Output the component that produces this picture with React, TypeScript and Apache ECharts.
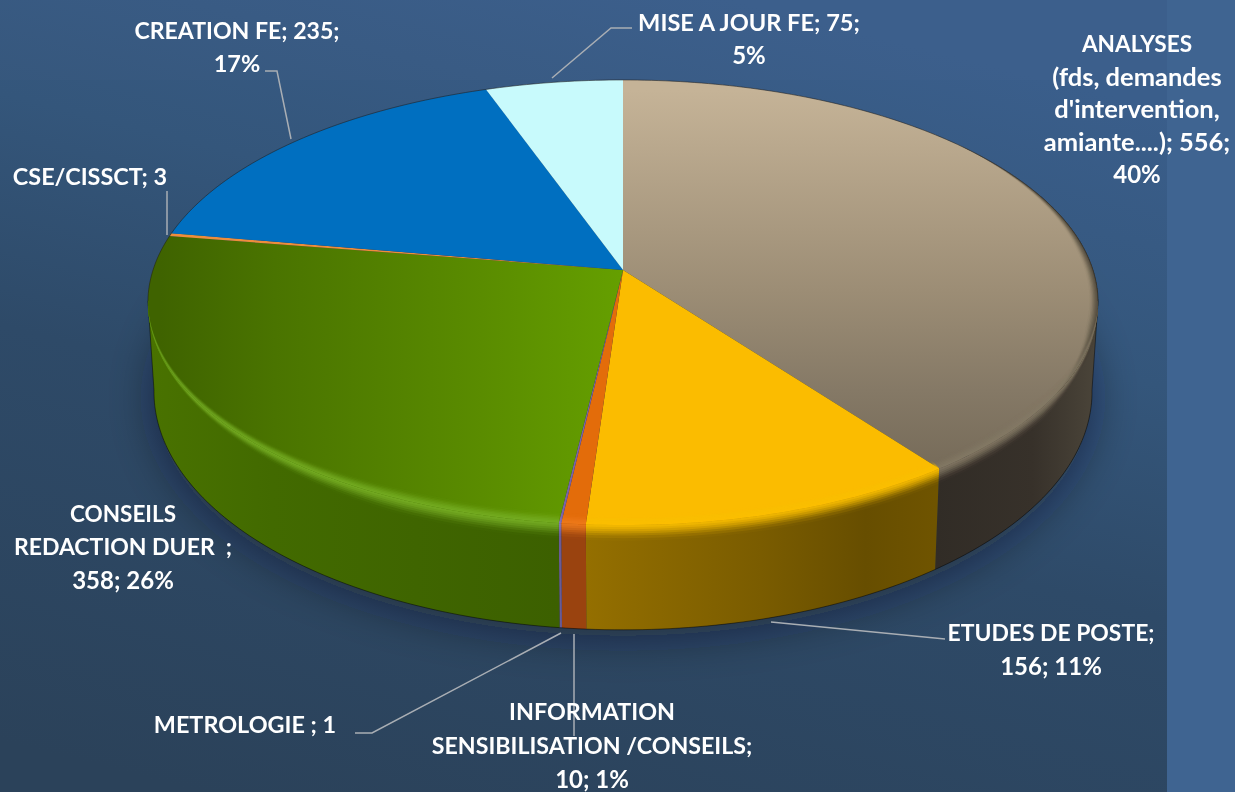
import React, { useEffect, useRef } from "react";
import * as echarts from "echarts";

const categories = [
  "ANALYSES (fds, demandes d'intervention, amiante....)",
  "ETUDES DE POSTE",
  "INFORMATION SENSIBILISATION /CONSEILS",
  "METROLOGIE",
  "CONSEILS REDACTION DUER",
  "CSE/CISSCT",
  "CREATION FE",
  "MISE A JOUR FE",
];
const values = [556, 156, 10, 1, 358, 3, 235, 75];
const labelLines = [
  ["ANALYSES", "(fds, demandes", "d'intervention,", "amiante....); 556;", "40%"],
  ["ETUDES DE POSTE;", "156; 11%"],
  ["INFORMATION", "SENSIBILISATION /CONSEILS;", "10; 1%"],
  ["METROLOGIE ; 1"],
  ["CONSEILS", "REDACTION DUER  ;", "358; 26%"],
  ["CSE/CISSCT; 3"],
  ["CREATION FE; 235;", "17%"],
  ["MISE A JOUR FE; 75;", "5%"],
];

// ---- layout and styles (separate from the data) ----
const W = 1235;
const H = 792;
const labelAnchors = [
  { x: 1137, y: 43, step: 32.5, sizes: [22.6, 25.5, 25.5, 25.5, 24] },
  { x: 1051, y: 632, step: 33, sizes: [22.9, 24] },
  { x: 592, y: 711, step: 33.5, sizes: [23.3, 23.2, 24] },
  { x: 245, y: 724, step: 33, sizes: [23.4] },
  { x: 123, y: 513, step: 33, sizes: [22.5, 23, 24] },
  { x: 90, y: 176, step: 33, sizes: [23.4] },
  { x: 237, y: 30, step: 33, sizes: [23.1, 23.5] },
  { x: 749, y: 22, step: 32, sizes: [23.6, 24] },
];
const leaders: number[][][] = [
  [],
  [[771, 622], [945, 639]],
  [[574, 634], [574, 736]],
  [[561, 633], [372, 733], [355, 733]],
  [],
  [[167, 191], [167, 235]],
  [[265, 71], [277, 71], [291, 139]],
  [[552, 78], [611, 28], [632, 28]],
];
const gl = (x1: number, y1: number, x2: number, y2: number, stops: [number, string][]) =>
  new echarts.graphic.LinearGradient(
    x1, y1, x2, y2,
    stops.map(([offset, color]) => ({ offset, color })),
    true
  );
const faceFill = [
  gl(0, 90, 0, 470, [[0, "#c5b397"], [0.53, "#9c8d75"], [0.79, "#857966"], [1, "#766b59"]]),
  "#fbbc00",
  "#e36c0a",
  "#7a62aa",
  gl(160, 0, 620, 0, [[0, "#3f6300"], [0.25, "#4a7400"], [0.7, "#5a8c00"], [1, "#659f00"]]),
  "#ee8d3c",
  "#006fc0",
  "#c8fafc",
];
const wallFill = [
  gl(935, 0, 1098, 0, [[0, "#312c26"], [0.6, "#37312a"], [1, "#4b453a"]]),
  gl(587, 0, 935, 0, [[0, "#946f00"], [0.5, "#7a5c00"], [0.8, "#674e00"], [1, "#6f5400"]]),
  "#9a430f",
  "#6a5a96",
  gl(150, 0, 560, 0, [[0, "#497200"], [0.3, "#426a00"], [1, "#3c6000"]]),
  "#3c6000",
  "#004f88",
  "#8fb4b6",
];
type Span = { i: number; color: string; in: [number, number]; out: [number, number] };
const rimSpans: Span[] = [
  { i: 0, color: "#4c463a", in: [52, 85], out: [105, 122] },
  { i: 0, color: "#857a66", in: [100, 125], out: [400, 400] },
  { i: 1, color: "#fcc000", in: [0, 0], out: [400, 400] },
  { i: 2, color: "#f07c1c", in: [0, 0], out: [400, 400] },
  { i: 3, color: "#8a78b8", in: [0, 0], out: [400, 400] },
  { i: 4, color: "#78b026", in: [0, 0], out: [205, 262] },
];
// the silhouette edges of the cylinder, filled past the point where both rims cross
const sideFillers = [
  { i: 0, edge: 98, inner: 70 },
  { i: 4, edge: 262, inner: 290 },
];

// ---- projection of the pie: top disc and bottom disc ----
const K = 0.146;
const topPt = (deg: number, s = 1): number[] => {
  const a = (deg * Math.PI) / 180;
  const sx = 1 - (1 - s) * 0.5;
  const u = sx * Math.sin(a);
  const v = -s * Math.cos(a);
  const d = 1 - K * v;
  return [623 + (470 * u) / d, 270 + (217.8 * v) / d];
};
const botPt = (deg: number): number[] => {
  const a = (deg * Math.PI) / 180;
  const u = Math.sin(a);
  const v = -Math.cos(a);
  const d = 1 - K * v;
  return [623 + (464 * u) / d, 357 + (233 * v) / d];
};
const wallPt = (deg: number, h: number): number[] => {
  const t = topPt(deg);
  const b = botPt(deg);
  return [t[0] + (b[0] - t[0]) * h, t[1] + (b[1] - t[1]) * h];
};
const sample = (a: number, b: number, fn: (d: number) => number[]) => {
  const n = Math.max(1, Math.ceil(Math.abs(b - a)));
  const out: number[][] = [];
  for (let i = 0; i <= n; i++) out.push(fn(a + ((b - a) * i) / n));
  return out;
};
const clamp01 = (t: number) => Math.max(0, Math.min(1, t));
const taper = (r: Span, d: number) => {
  const fi = r.in[1] > r.in[0] ? clamp01((d - r.in[0]) / (r.in[1] - r.in[0])) : 1;
  const fo = r.out[1] > r.out[0] ? clamp01((r.out[1] - d) / (r.out[1] - r.out[0])) : 1;
  return fi * fo;
};

const total = values.reduce((a, b) => a + b, 0);
const starts: number[] = [];
values.reduce((acc, v, i) => {
  starts[i] = acc;
  return acc + (v / total) * 360;
}, 0);
const endOf = (i: number) => starts[i] + (values[i] / total) * 360;

// soft bevel: stacked translucent bands on either side of the rim
const faceBands = [0.035, 0.029, 0.024, 0.019, 0.014, 0.009, 0.004].map((w, k) => [w, 0.1 + k * 0.13]);
const wallBands = [0.15, 0.125, 0.1, 0.08, 0.06, 0.04, 0.02].map((h, k) => [h, k * 0.16 + 0.08]);

const seriesData = values.map((v, i) => [i, v]);

const renderShadow = () => ({
  type: "polygon",
  shape: { points: sample(0, 360, (d) => botPt(d)) },
  style: {
    fill: "#20303f",
    shadowBlur: 45,
    shadowColor: "rgba(10,20,35,0.5)",
    shadowOffsetY: 6,
  },
  silent: true,
});

const renderWall = (params: any) => {
  const i = params.dataIndex;
  const a = Math.max(starts[i], 68);
  const b = Math.min(endOf(i), 282);
  if (b <= a) return { type: "group", children: [] };
  const children: any[] = [];
  sideFillers
    .filter((f) => f.i === i)
    .forEach((f) => {
      children.push({
        type: "polygon",
        shape: { points: [topPt(f.edge), botPt(f.edge), botPt(f.inner), topPt(f.inner)] },
        style: { fill: wallFill[i] },
      });
    });
  children.push({
    type: "polygon",
    shape: {
      points: [...sample(a, b, (d) => wallPt(d, 0)), ...sample(b, a, (d) => wallPt(d, 1))],
    },
    style: { fill: wallFill[i] },
  });
  rimSpans
    .filter((r) => r.i === i)
    .forEach((r) => {
      wallBands.forEach(([h, op]) => {
        children.push({
          type: "polygon",
          shape: {
            points: [
              ...sample(a, b, (d) => wallPt(d, 0)),
              ...sample(b, a, (d) => wallPt(d, h * taper(r, d))),
            ],
          },
          style: { fill: r.color, opacity: op * 0.45 },
        });
      });
    });
  // outer outline: the bottom rim on the near side, plus the straight silhouette edges
  const outlineA = Math.max(a, 98);
  const outlineB = Math.min(b, 262);
  if (outlineB > outlineA) {
    children.push({
      type: "polyline",
      shape: { points: sample(outlineA, outlineB, (d) => botPt(d)) },
      style: { fill: "none", stroke: "rgba(0,0,0,0.45)", lineWidth: 1 },
    });
  }
  sideFillers
    .filter((f) => f.i === i)
    .forEach((f) => {
      children.push({
        type: "polyline",
        shape: { points: [topPt(f.edge), botPt(f.edge)] },
        style: { fill: "none", stroke: "rgba(0,0,0,0.45)", lineWidth: 1 },
      });
    });
  return { type: "group", children, silent: true };
};

const renderFace = (params: any) => {
  const i = params.dataIndex;
  const a = starts[i];
  const b = endOf(i);
  const children: any[] = [
    {
      type: "polygon",
      shape: { points: [[623, 270], ...sample(a, b, (d) => topPt(d))] },
      style: { fill: faceFill[i] },
    },
  ];
  rimSpans
    .filter((r) => r.i === i)
    .forEach((r) => {
      faceBands.forEach(([w0, op]) => {
        children.push({
          type: "polygon",
          shape: {
            points: [
              ...sample(a, b, (d) => topPt(d, 1 - w0 * taper(r, d))),
              ...sample(b, a, (d) => topPt(d, 1)),
            ],
          },
          style: { fill: r.color, opacity: op * 0.5 },
        });
      });
    });
  // thin dark outline along the far side of the disc
  const arcs = [
    [a, Math.min(b, 98)],
    [Math.max(a, 262), b],
  ];
  arcs.forEach(([p, q]) => {
    if (q > p) {
      children.push({
        type: "polyline",
        shape: { points: sample(p, q, (d) => topPt(d)) },
        style: { fill: "none", stroke: "rgba(30,30,30,0.55)", lineWidth: 1 },
      });
    }
  });
  return { type: "group", children, silent: true };
};

const renderLabel = (params: any) => {
  const i = params.dataIndex;
  const children: any[] = [];
  if (leaders[i].length) {
    children.push({
      type: "polyline",
      shape: { points: leaders[i] },
      style: { fill: "none", stroke: "#a9aeb4", lineWidth: 1.5 },
    });
  }
  const anchor = labelAnchors[i];
  labelLines[i].forEach((line, k) => {
    children.push({
      type: "text",
      x: anchor.x,
      y: anchor.y + k * anchor.step,
      style: {
        text: line,
        fill: "#ffffff",
        fontFamily: "Lato",
        fontWeight: 700,
        fontSize: anchor.sizes[k],
        align: "center",
        verticalAlign: "middle",
      },
    });
  });
  return { type: "group", children, silent: true };
};

const backgroundRects = [
  {
    type: "rect",
    z: -10,
    shape: { x: 0, y: 0, width: W, height: H },
    style: {
      fill: gl(200, 792, 420, -79, [[0, "#2b425a"], [0.45, "#2e4a68"], [0.7, "#34567b"], [1, "#3a5e8b"]]),
    },
  },
  {
    type: "rect",
    z: -9,
    shape: { x: 0, y: 0, width: W, height: 80 },
    style: { fill: "rgba(255,255,255,0.012)" },
  },
  {
    type: "rect",
    z: -8,
    shape: { x: 1167, y: 0, width: W - 1167, height: H },
    style: { fill: "#3f6491" },
  },
];

export default function App() {
  const ref = useRef<HTMLDivElement>(null);
  useEffect(() => {
    const chart = echarts.init(ref.current!, undefined, { renderer: "svg", width: W, height: H });
    const common = { type: "custom", coordinateSystem: "none", silent: true, animation: false };
    chart.setOption({
      animation: false,
      graphic: { elements: backgroundRects },
      series: [
        { ...common, name: "shadow", z: 1, data: [[0]], renderItem: renderShadow },
        { ...common, name: "walls", z: 2, data: seriesData, renderItem: renderWall },
        { ...common, name: categories.join(" | "), z: 3, data: seriesData, renderItem: renderFace },
        { ...common, name: "labels", z: 4, data: seriesData, renderItem: renderLabel },
      ],
    });
    return () => chart.dispose();
  }, []);
  return <div ref={ref} style={{ position: "fixed", left: 0, top: 0, width: W, height: H }} />;
}
